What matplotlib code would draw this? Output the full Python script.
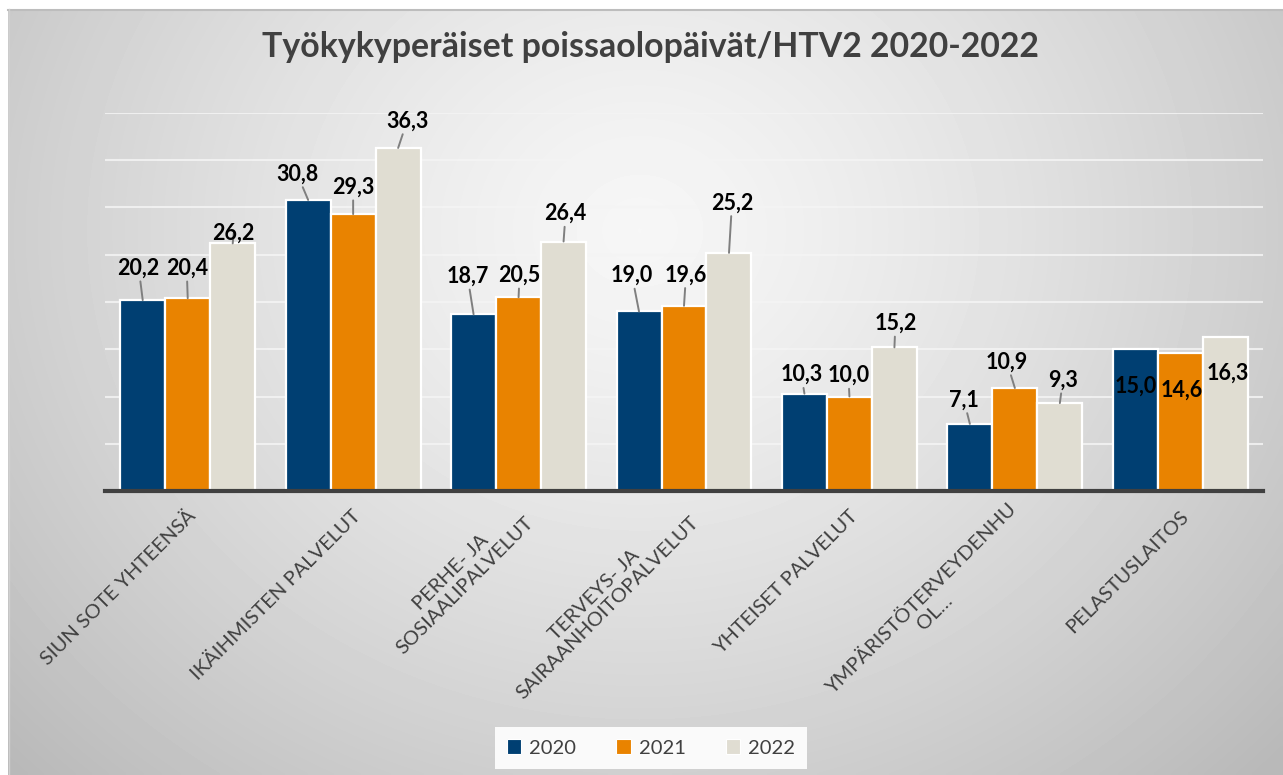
import numpy as np
import matplotlib
matplotlib.use("Agg")
import matplotlib.pyplot as plt
from matplotlib.patches import Patch
from matplotlib.transforms import ScaledTranslation

plt.rcParams['font.family'] = ['Lato', 'DejaVu Sans']

# data
categories = ["SIUN SOTE YHTEENSÄ", "IKÄIHMISTEN PALVELUT", "PERHE- JA\nSOSIAALIPALVELUT",
              "TERVEYS- JA\nSAIRAANHOITOPALVELUT", "YHTEISET PALVELUT",
              "YMPÄRISTÖTERVEYDENHU\nOL…", "PELASTUSLAITOS"]
years = ["2020", "2021", "2022"]
v2020 = [20.2, 30.8, 18.7, 19.0, 10.3, 7.1, 15.0]
v2021 = [20.4, 29.3, 20.5, 19.6, 10.0, 10.9, 14.6]
v2022 = [26.2, 36.3, 26.4, 25.2, 15.2, 9.3, 16.3]
series = [v2020, v2021, v2022]
colors = ["#003f72", "#e98300", "#e0ddd2"]

# label offsets (pixels) from bar top
lab_dx = [[-4, -11, -6, -7, -3, -6, 0],
          [-1, 0, 1, 2, -1, -8, 1],
          [1, 9, 2, 3, 1, 3, 3]]
lab_dy = [[32, 26, 38, 36, 19, 24, -37],
          [30, 27, 22, 31, 21, 26, -37],
          [10, 27, 28, 50, 24, 23, -36]]

W, H = 1283, 775
fig = plt.figure(figsize=(W/100, H/100), dpi=100)
fig.patch.set_facecolor("white")

# background gradient
bg = fig.add_axes([0, 0, 1, 1], zorder=-5)
bg.set_xlim(0, W)
bg.set_ylim(H, 0)
bg.axis("off")
gx, gy = np.meshgrid(np.linspace(8, W, 320), np.linspace(9, H, 200))
d = np.sqrt(((gx-640)/700.0)**2 + ((gy-230)/620.0)**2)
val = 0.965 - 0.18*np.clip(d, 0, 1.25)**1.3
bg.imshow(val, cmap="gray", vmin=0, vmax=1, extent=(8, W, H, 9), aspect="auto", interpolation="bilinear")
bg.plot([8, W], [9.5, 9.5], color="#bdbdbd", lw=1.5)
bg.plot([8.5, 8.5], [9, H], color="#d0d0d0", lw=1)

ax = fig.add_axes([105/W, 1-491/H, (1263-105)/W, (491-113)/H])
ax.patch.set_alpha(0)
x = np.arange(len(categories))
bw = 0.272
for i, vals in enumerate(series):
    xs = x + (i-1)*bw
    ax.bar(xs, vals, bw, color=colors[i], edgecolor="white", linewidth=1.6, zorder=3)
    for j, v in enumerate(vals):
        dy = lab_dy[i][j]
        ap = dict(arrowstyle="-", color="#7f7f7f", lw=1.4, shrinkA=0, shrinkB=0) if dy > 0 else None
        ax.annotate(f"{v:.1f}".replace(".", ","), xy=(xs[j], v), xytext=(lab_dx[i][j], dy),
                    textcoords="offset pixels", ha="center", va="center",
                    fontsize=15.5, fontweight="bold", color="black", arrowprops=ap, zorder=5)

ax.set_xlim(-0.5, len(categories)-0.5)
ax.set_ylim(0, 40)
ax.set_yticks(np.arange(5, 41, 5))
ax.yaxis.grid(True, color="#f4f4f4", lw=1.5, alpha=0.85)
ax.set_axisbelow(True)
ax.tick_params(axis="y", length=0, labelleft=False)
for s in ["top", "right", "left"]:
    ax.spines[s].set_visible(False)
ax.spines["bottom"].set_color("#404040")
ax.spines["bottom"].set_linewidth(3)
ax.spines["bottom"].set_zorder(6)

ax.set_xticks(x)
ax.set_xticklabels(categories, rotation=45, ha="right", va="center", rotation_mode="anchor",
                   multialignment="center", fontsize=14.5, color="#404040", linespacing=1.15)
ax.tick_params(axis="x", length=0, pad=16)
shift = ScaledTranslation(5/100, 0, fig.dpi_scale_trans)
for lbl in ax.get_xticklabels():
    lbl.set_transform(lbl.get_transform() + shift)

fig.text(650/W, 1-47/H, "Työkykyperäiset poissaolopäivät/HTV2 2020-2022", ha="center", va="center",
         fontsize=24.4, fontweight="bold", color="#404040")

handles = [Patch(facecolor=c, edgecolor="white", lw=0.8) for c in colors]
leg = fig.legend(handles, years, loc="center", bbox_to_anchor=(651/W, 1-748/H), ncol=3,
                 fontsize=14.5, frameon=True, fancybox=False, handlelength=0.7, handleheight=0.7,
                 handletextpad=0.4, columnspacing=2.0, borderpad=0.6, labelcolor="#404040")
leg.get_frame().set_facecolor("#fafafa")
leg.get_frame().set_edgecolor("none")
leg.get_frame().set_alpha(1)

fig.savefig("out.png", dpi=100)
